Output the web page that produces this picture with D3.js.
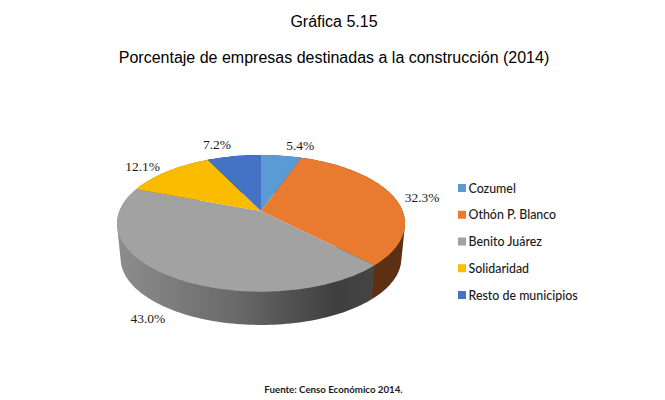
<!DOCTYPE html>
<html>
<head>
<meta charset="utf-8">
<script src="https://cdn.jsdelivr.net/npm/d3@7"></script>
<style>
  html, body { margin: 0; padding: 0; background: #fff; }
  svg { display: block; }
</style>
</head>
<body>
<svg id="chart" width="665" height="400"></svg>
<script>
// data
var categories = ["Cozumel", "Othón P. Blanco", "Benito Juárez", "Solidaridad", "Resto de municipios"];
var values = [5.4, 32.3, 43.0, 12.1, 7.2];
var colors = ["#5b9bd5", "#e97b30", "#a2a2a2", "#fbbc00", "#4472c4"];
var wallColors = ["#2e4f6e", "#5e3013", "url(#wallGray)", "#7f6000", "#223a66"];

// where each value label sits relative to the rim point of its slice
var labelOffsets = [[19, -6], [28, 5], [-22, 47], [-25, 0], [-17, -7]];

var svg = d3.select("#chart");

svg.append("text").attr("x", 334).attr("y", 27).attr("text-anchor", "middle")
    .attr("font-family", "Liberation Sans").attr("font-size", 16).attr("fill", "#000")
    .text("Gráfica 5.15");
svg.append("text").attr("x", 334).attr("y", 63).attr("text-anchor", "middle")
    .attr("font-family", "Liberation Sans").attr("font-size", 16).attr("fill", "#000")
    .text("Porcentaje de empresas destinadas a la construcción (2014)");
svg.append("text").attr("x", 333.5).attr("y", 393).attr("text-anchor", "middle")
    .attr("font-family", "Lato").attr("font-weight", 700).attr("font-size", 9.7).attr("fill", "#1a1a1a")
    .text("Fuente: Censo Económico 2014.");

// pie in perspective: a circle pushed through a projective map, so the
// apex is not in the middle of the visible ellipse
var cx = 261, cy = 211, rx = 141.6, ry = 66.1, persp = -0.1806;
var wallShrink = 0.975, wallY = 246.3;

function project(angle, shrink, yc) {
  var u = Math.sin(angle), v = -Math.cos(angle), d = 1 + persp * v;
  return [cx + shrink * rx * u / d, yc + shrink * ry * v / d];
}

var pie = d3.pie().sort(null).value(function(d) { return d; });
var arcs = pie(values);
var line = d3.line();

function rim(a, shrink, yc) {
  var n = Math.max(2, Math.ceil((a.endAngle - a.startAngle) * 40));
  return d3.range(n + 1).map(function(i) {
    return project(a.startAngle + (a.endAngle - a.startAngle) * i / n, shrink, yc);
  });
}

var grad = svg.append("defs").append("linearGradient").attr("id", "wallGray")
    .attr("gradientUnits", "userSpaceOnUse")
    .attr("x1", 120).attr("x2", 372).attr("y1", 0).attr("y2", 0);
grad.append("stop").attr("offset", "0%").attr("stop-color", "#8c8c8c");
grad.append("stop").attr("offset", "45%").attr("stop-color", "#6a6a6a");
grad.append("stop").attr("offset", "85%").attr("stop-color", "#3f3f3f");
grad.append("stop").attr("offset", "100%").attr("stop-color", "#444444");

// walls first, the top faces cover their back halves
svg.append("g").selectAll("path").data(arcs).join("path")
    .attr("fill", function(d, i) { return wallColors[i]; })
    .attr("d", function(d) {
      return line(d3.polygonHull(rim(d, 1, cy).concat(rim(d, wallShrink, wallY)))) + "Z";
    });

svg.append("g").selectAll("path").data(arcs).join("path")
    .attr("fill", function(d, i) { return colors[i]; })
    .attr("d", function(d) {
      return line([[cx, cy]].concat(rim(d, 1, cy))) + "Z";
    });

// value labels
svg.append("g").selectAll("text").data(arcs).join("text")
    .attr("text-anchor", "middle")
    .attr("font-family", "Liberation Serif").attr("font-size", 13.5).attr("fill", "#1a1a1a")
    .attr("x", function(d, i) { return project((d.startAngle + d.endAngle) / 2, 1, cy)[0] + labelOffsets[i][0]; })
    .attr("y", function(d, i) { return project((d.startAngle + d.endAngle) / 2, 1, cy)[1] + labelOffsets[i][1]; })
    .text(function(d) { return d.value.toFixed(1) + "%"; });

// legend
var legendY = d3.scalePoint().domain(categories).range([188, 295]);
var legend = svg.append("g").selectAll("g").data(categories).join("g")
    .attr("transform", function(d) { return "translate(458," + legendY(d) + ")"; });
legend.append("rect").attr("x", 0).attr("y", -4).attr("width", 8).attr("height", 8)
    .attr("fill", function(d, i) { return colors[i]; });
legend.append("text").attr("x", 10.5).attr("y", 4.5)
    .attr("font-family", "Lato").attr("font-size", 12.4).attr("font-weight", 500).attr("fill", "#1a1a1a")
    .text(function(d) { return d; });
</script>
</body>
</html>
